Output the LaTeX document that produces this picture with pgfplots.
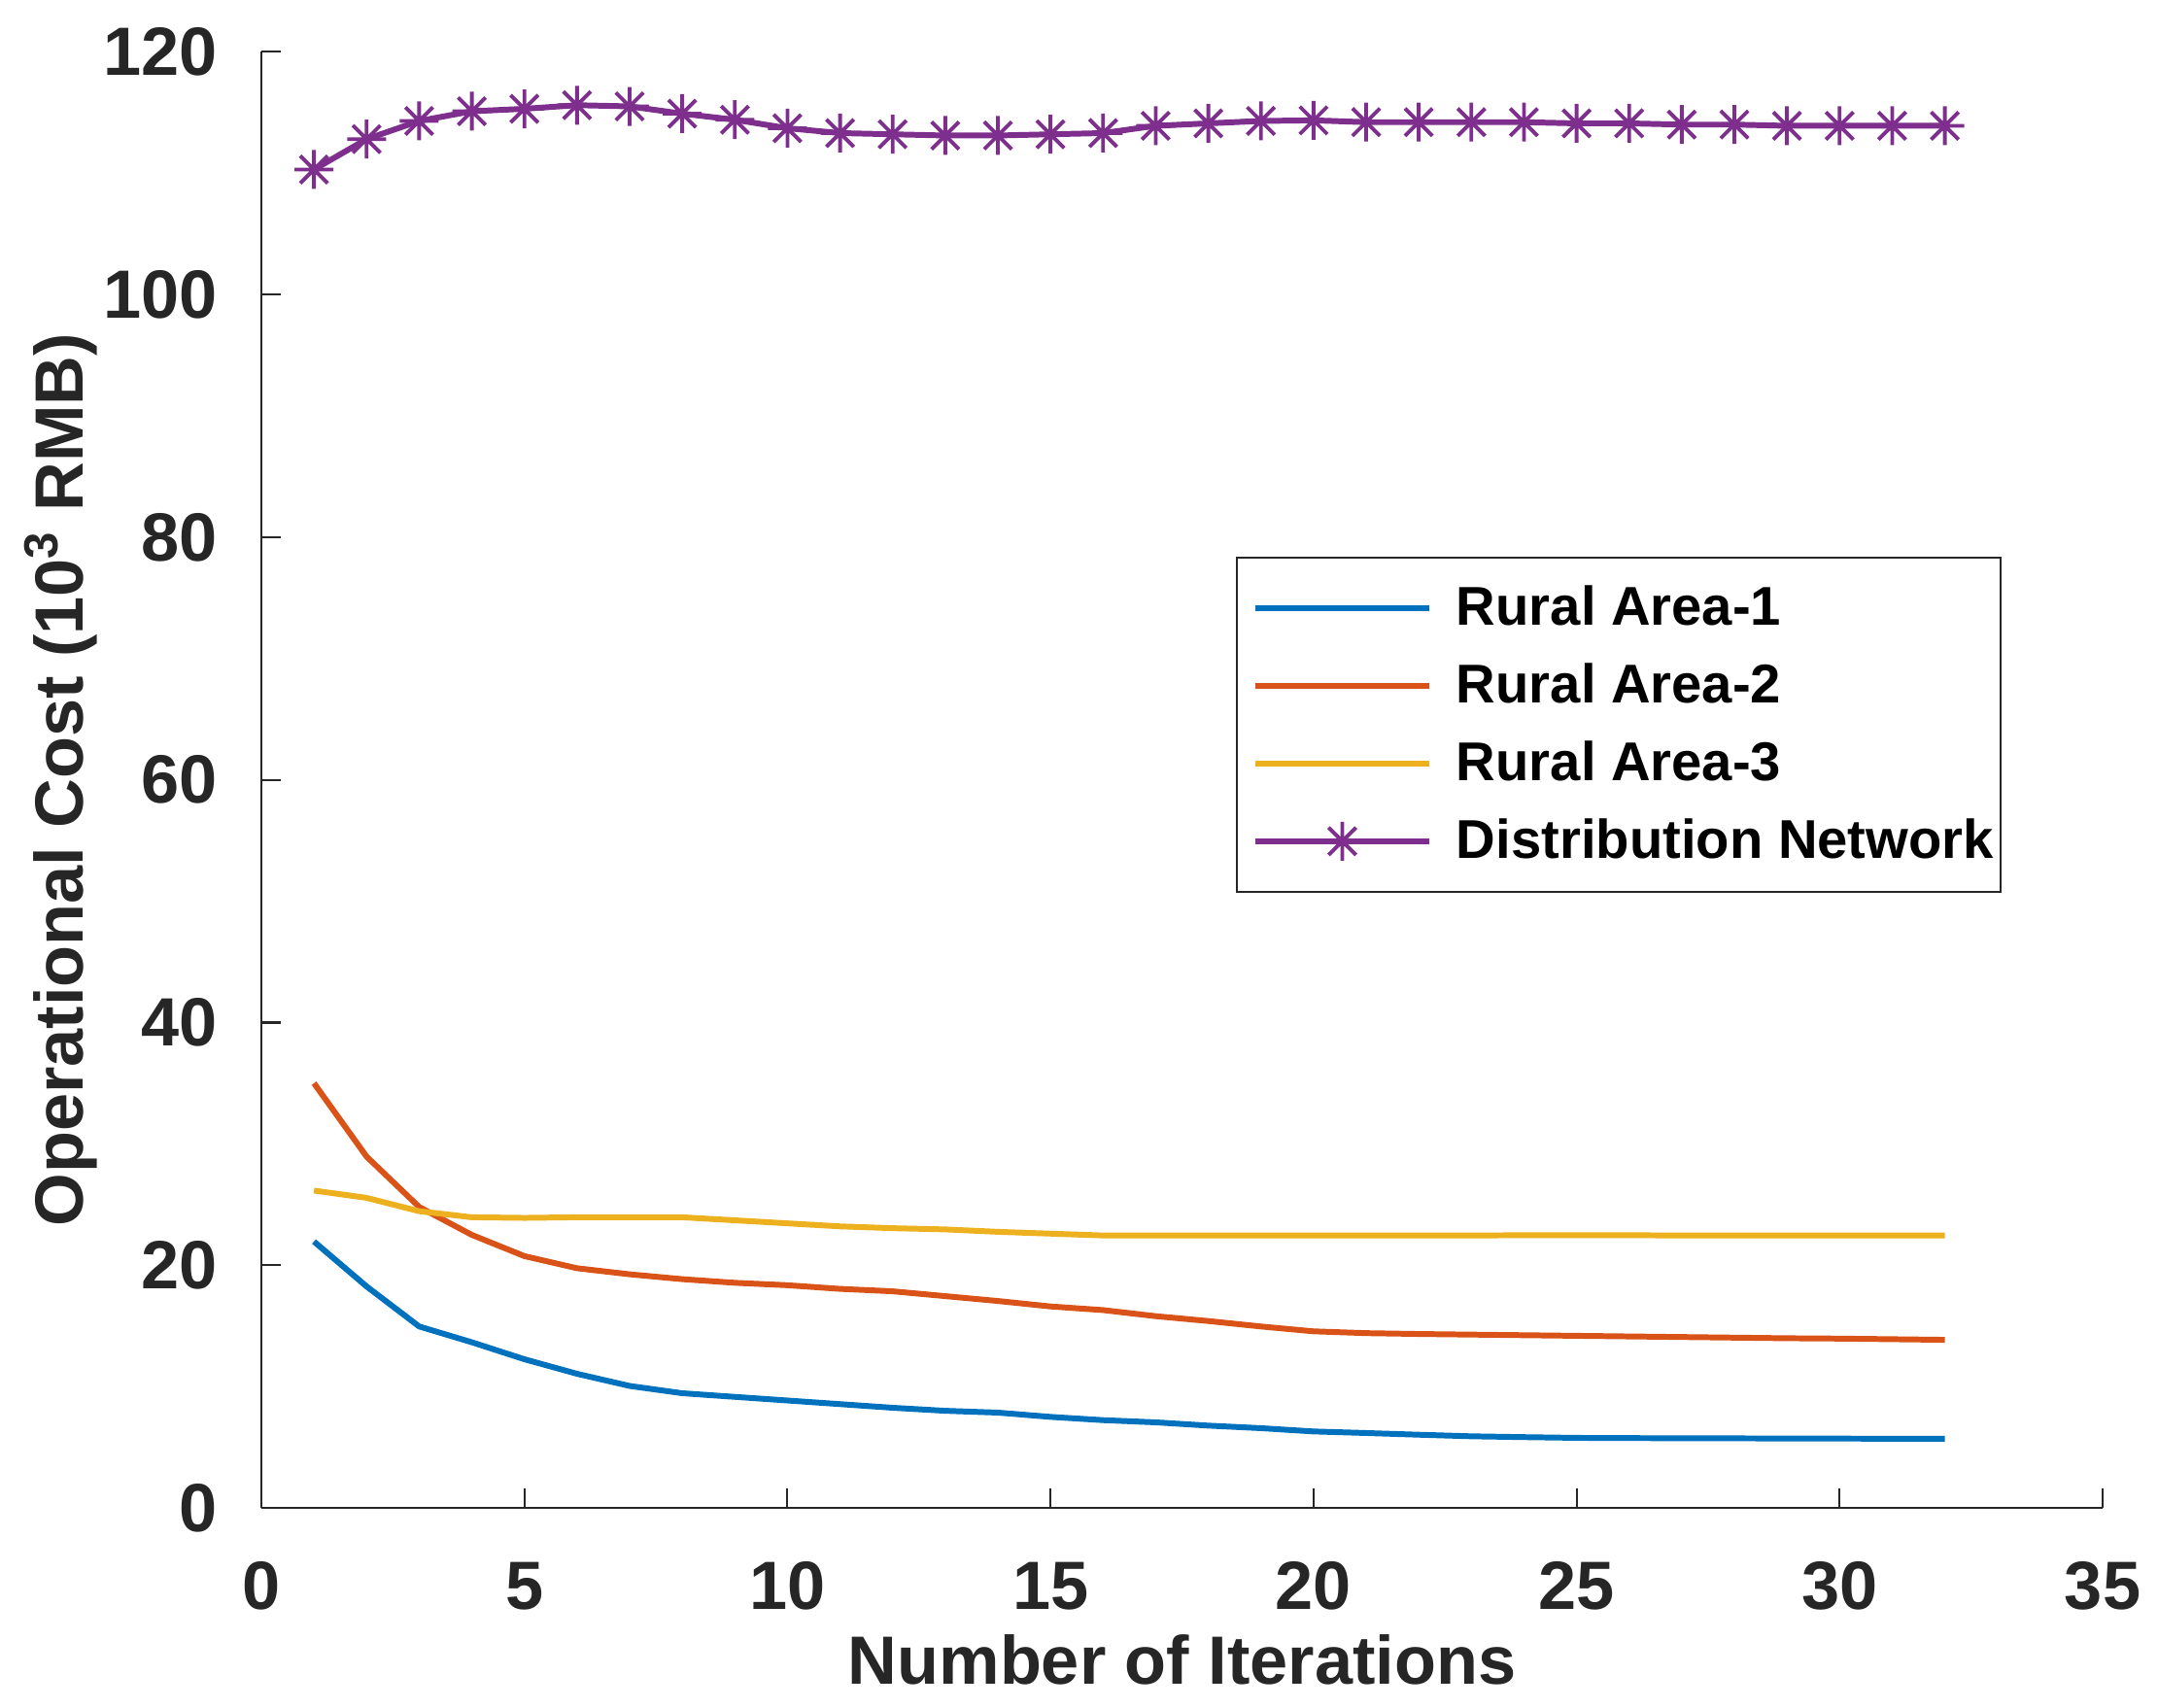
\documentclass[border=0pt]{standalone}
\usepackage{fontspec}
\setmainfont{Liberation Sans}
\usepackage{pgfplots}
\pgfplotsset{compat=1.18}
\usetikzlibrary{calc}
\definecolor{mgray}{rgb}{0.149,0.149,0.149}
\definecolor{mblue}{rgb}{0,0.447,0.741}
\definecolor{morange}{rgb}{0.85,0.325,0.098}
\definecolor{myellow}{rgb}{0.929,0.694,0.125}
\definecolor{mpurple}{rgb}{0.494,0.184,0.556}
\pgfdeclareplotmark{mstar}{%
  \pgfpathmoveto{\pgfqpoint{0pt}{\pgfplotmarksize}}%
  \pgfpathlineto{\pgfqpoint{0pt}{-\pgfplotmarksize}}%
  \pgfpathmoveto{\pgfqpoint{\pgfplotmarksize}{0pt}}%
  \pgfpathlineto{\pgfqpoint{-\pgfplotmarksize}{0pt}}%
  \pgfpathmoveto{\pgfqpoint{.7071\pgfplotmarksize}{.7071\pgfplotmarksize}}%
  \pgfpathlineto{\pgfqpoint{-.7071\pgfplotmarksize}{-.7071\pgfplotmarksize}}%
  \pgfpathmoveto{\pgfqpoint{-.7071\pgfplotmarksize}{.7071\pgfplotmarksize}}%
  \pgfpathlineto{\pgfqpoint{.7071\pgfplotmarksize}{-.7071\pgfplotmarksize}}%
  \pgfusepathqstroke}
\begin{document}
\begin{tikzpicture}
\begin{axis}[
  name=ax,
  at={(0,0)}, anchor=south west,
  scale only axis,
  width=189.5mm, height=149.87mm,
  xmin=0, xmax=35, ymin=0, ymax=120,
  xtick={0,5,...,35}, ytick={0,20,...,120},
  axis x line=bottom, axis y line=left,
  axis line style={-, mgray, line width=0.6pt},
  tick align=inside,
  major tick length=2mm,
  tick style={mgray, line width=0.6pt},
  /pgf/number format/assume math mode=true,
  ticklabel style={font=\fontsize{20}{24}\selectfont\bfseries, text=mgray},
  yticklabel style={anchor=east, inner sep=0pt, xshift=-4.5mm},
  xticklabel style={anchor=north, inner sep=0pt, yshift=-5.5mm},
  xlabel={Number of Iterations},
  ylabel={Operational Cost (10\textsuperscript{3} RMB)},
  label style={font=\fontsize{20}{24}\selectfont\bfseries, text=mgray, inner sep=0pt},
  xlabel style={at={(axis description cs:0.5,-0.12077)}, anchor=base},
  ylabel style={at={(axis description cs:-0.09657,0.5)}, anchor=base},
  legend style={at={(rel axis cs:0.9451,0.6534)}, anchor=north east,
    draw=mgray, line width=0.6pt, inner xsep=1.6mm, inner ysep=2.9mm,
    font=\fontsize{16}{19}\selectfont\bfseries, row sep=3.4mm,
    nodes={inner sep=0pt},
    /tikz/every odd column/.append style={column sep=2.5mm}},
  legend cell align=left,
  legend image code/.code={\draw[mark repeat=2,mark phase=2,#1] plot coordinates {(0mm,0mm) (8.95mm,0mm) (17.9mm,0mm)};},
  every axis plot/.append style={line width=1.7pt, line join=round},
]
\addplot[mblue, no markers] coordinates {
(1,21.95) (2,18.25) (3,14.95) (4,13.65) (5,12.25) (6,11.05) (7,10.05) (8,9.45)
(9,9.15) (10,8.85) (11,8.55) (12,8.25) (13,8.0) (14,7.85) (15,7.5) (16,7.23)
(17,7.05) (18,6.78) (19,6.57) (20,6.3) (21,6.17) (22,6.03) (23,5.9) (24,5.83)
(25,5.77) (26,5.75) (27,5.74) (28,5.73) (29,5.72) (30,5.71) (31,5.7) (32,5.7)};
\addlegendentry{Rural Area-1}
\addplot[morange, no markers] coordinates {
(1,35.0) (2,28.95) (3,24.8) (4,22.5) (5,20.75) (6,19.75) (7,19.25) (8,18.85)
(9,18.55) (10,18.35) (11,18.05) (12,17.85) (13,17.45) (14,17.05) (15,16.6) (16,16.3)
(17,15.8) (18,15.4) (19,14.95) (20,14.55) (21,14.4) (22,14.33) (23,14.28) (24,14.23)
(25,14.18) (26,14.13) (27,14.08) (28,14.03) (29,13.98) (30,13.95) (31,13.9) (32,13.85)};
\addlegendentry{Rural Area-2}
\addplot[myellow, no markers] coordinates {
(1,26.15) (2,25.55) (3,24.45) (4,23.95) (5,23.9) (6,23.95) (7,23.95) (8,23.95)
(9,23.7) (10,23.45) (11,23.2) (12,23.05) (13,22.95) (14,22.75) (15,22.6) (16,22.45)
(17,22.45) (18,22.45) (19,22.45) (20,22.45) (21,22.45) (22,22.45) (23,22.45) (24,22.47)
(25,22.47) (26,22.47) (27,22.45) (28,22.45) (29,22.45) (30,22.45) (31,22.45) (32,22.45)};
\addlegendentry{Rural Area-3}
\addplot[mpurple, mark=mstar, mark size=2mm, mark options={solid, line width=1.1pt}] coordinates {
(1,110.3) (2,112.8) (3,114.3) (4,115.1) (5,115.3) (6,115.6) (7,115.5) (8,114.9)
(9,114.4) (10,113.7) (11,113.3) (12,113.2) (13,113.1) (14,113.1) (15,113.2) (16,113.3)
(17,113.9) (18,114.1) (19,114.3) (20,114.35) (21,114.2) (22,114.2) (23,114.2) (24,114.2)
(25,114.1) (26,114.1) (27,114.0) (28,114.0) (29,113.9) (30,113.9) (31,113.9) (32,113.9)};
\addlegendentry{\makebox[54.4mm][l]{Distribution Network}}
\end{axis}
\pgfresetboundingbox
\path[use as bounding box] ($(ax.south west)+(-26.9mm,-20.5mm)$) rectangle ($(ax.north east)+(5.7mm,5.33mm)$);
\end{tikzpicture}
\end{document}
